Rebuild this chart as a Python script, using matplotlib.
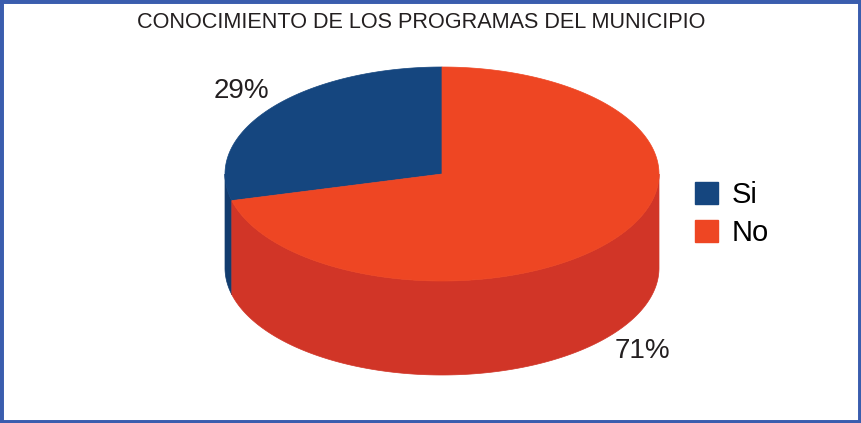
import numpy as np
import matplotlib
matplotlib.use("Agg")
import matplotlib.pyplot as plt
from matplotlib.patches import Polygon, Patch, Rectangle

# data
title = "CONOCIMIENTO DE LOS PROGRAMAS DEL MUNICIPIO"
labels = ["Si", "No"]
values = [29, 71]
top_colors = ["#15467F", "#EE4623"]
side_colors = ["#123C6E", "#D13527"]

# pie geometry (pixels)
cx, cy = 442, 174
rx, ry = 217, 107
depth = 94

fig = plt.figure(figsize=(8.61, 4.23), dpi=100)
ax = fig.add_axes([0, 0, 1, 1])
ax.set_xlim(0, 861)
ax.set_ylim(423, 0)
ax.axis("off")


def pt(theta, dy=0):
    t = np.radians(theta)
    return cx + rx * np.cos(t), cy - ry * np.sin(t) + dy


fracs = np.array(values) / sum(values)
starts = 90 + 360 * np.concatenate([[0], np.cumsum(fracs)[:-1]])
ends = starts + 360 * fracs

# side walls (front half only: 180..360)
for s, e, col in zip(starts, ends, side_colors):
    for off in (0, 360, -360):
        a, b = max(s, 180 + off), min(e, 360 + off)
        if b > a:
            th = np.linspace(a, b, 200)
            x, y = pt(th)
            xb, yb = pt(th[::-1], depth)
            poly = np.column_stack([np.concatenate([x, xb]), np.concatenate([y, yb])])
            ax.add_patch(Polygon(poly, closed=True, facecolor=col, edgecolor=col, lw=0.5))

# top faces
for s, e, col in zip(starts, ends, top_colors):
    th = np.linspace(s, e, 300)
    x, y = pt(th)
    poly = np.column_stack([np.concatenate([[cx], x]), np.concatenate([[cy], y])])
    ax.add_patch(Polygon(poly, closed=True, facecolor=col, edgecolor=col, lw=0.5))

# percentage labels
for s, e, v in zip(starts, ends, values):
    mid = np.radians((s + e) / 2)
    lx = cx + 1.17 * rx * np.cos(mid)
    ly = cy - 1.26 * ry * np.sin(mid)
    if np.sin(mid) < 0:
        ly += depth
    ax.text(lx, ly, f"{v}%", ha="center", va="center", fontsize=20,
            family="Liberation Sans", color="#231F20")

# title, fitted to reference width
t = ax.text(421, 22, title, ha="center", va="center", fontsize=15,
            family="Liberation Sans", color="#231F20")
fig.canvas.draw()
w = t.get_window_extent().width
t.set_fontsize(15 * 573 / w)

handles = [Patch(facecolor=c, edgecolor=c) for c in top_colors]
ax.legend(handles, labels, loc="center left", bbox_to_anchor=(0.807, 0.494),
          bbox_transform=fig.transFigure, frameon=False,
          prop={"family": "Liberation Sans", "size": 21},
          handlelength=0.8, handleheight=0.8, handletextpad=0.45,
          labelspacing=0.35, borderpad=0, borderaxespad=0)

# outer border
fig.patches.append(Rectangle((0, 0), 1, 1, transform=fig.transFigure,
                             fill=False, edgecolor="#3A5DAE", lw=5))

fig.savefig("out.png", dpi=100)
